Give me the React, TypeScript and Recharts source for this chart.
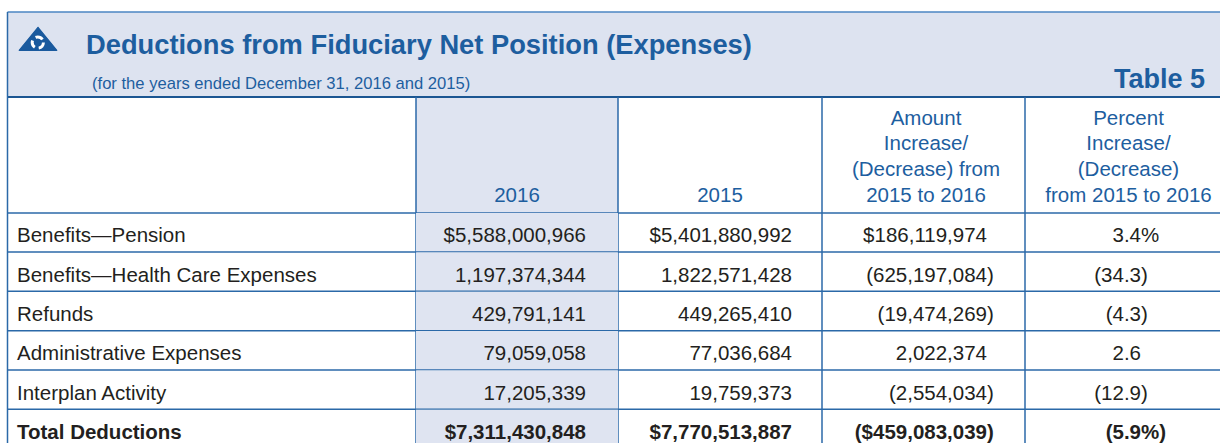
import React from 'react';
import { ComposedChart, Bar, XAxis, YAxis, Customized } from 'recharts';

// ---- data ----
const categories = [
  'Benefits—Pension',
  'Benefits—Health Care Expenses',
  'Refunds',
  'Administrative Expenses',
  'Interplan Activity',
  'Total Deductions',
];
const values2016 = [5588000966, 1197374344, 429791141, 79059058, 17205339, 7311430848];
const values2015 = [5401880992, 1822571428, 449265410, 77036684, 19759373, 7770513887];
const amountChange = [186119974, -625197084, -19474269, 2022374, -2554034, -459083039];
const percentChange = [3.4, -34.3, -4.3, 2.6, -12.9, -5.9];
const dollarRows = [0, 5];
const totalRow = 5;

const title = 'Deductions from Fiduciary Net Position (Expenses)';
const subtitle = '(for the years ended December 31, 2016 and 2015)';
const tableLabel = 'Table 5';
const colHeaders = [
  ['2016'],
  ['2015'],
  ['Amount', 'Increase/', '(Decrease) from', '2015 to 2016'],
  ['Percent', 'Increase/', '(Decrease)', 'from 2015 to 2016'],
];

const rows = categories.map((label, i) => ({
  label,
  v2016: values2016[i],
  v2015: values2015[i],
  amount: amountChange[i],
  pct: percentChange[i],
  idx: i,
}));

// ---- layout / style ----
const FONT = '"Liberation Sans", Arial, Helvetica, sans-serif';
const BLUE_TEXT = '#1d5e9f';
const LINE = '#2b69a8';
const DARK_LINE = '#1b5692';
const SHADE = '#dfe4f1';
const BAND = '#dde3f0';
const TXT = '#231f20';
const FS = 20.5;
const LEFT = 7.5;
const RIGHT = 1220;
const colEdges = [LEFT, 416, 618, 822, 1025, RIGHT];
const valueRight = [586, 792, 987, 1141];
const headerCenters = [517, 720, 926, 1128.5];
const headerBaselines = [124.5, 150.3, 176, 201.8];

const fmtNum = (v: number, dollar: boolean) => {
  const s = Math.abs(v).toLocaleString('en-US');
  const body = (dollar ? '$' : '') + s;
  return v < 0 ? '(' + body + ')' : body;
};
const fmtPct = (v: number, pctSign: boolean) => {
  const body = Math.abs(v).toFixed(1) + (pctSign ? '%' : '');
  return v < 0 ? '(' + body + ')' : body;
};

const HangText = ({ x, y, text, bold }: { x: number; y: number; text: string; bold: boolean }) => {
  const m = text.match(/^(.*\d)(\D*)$/);
  const main = m ? m[1] : text;
  const suf = m ? m[2] : '';
  return (
    <g fontFamily={FONT} fontSize={FS} fill={TXT} fontWeight={bold ? 700 : 400}>
      <text x={x} y={y} textAnchor="end">{main}</text>
      {suf ? <text x={x} y={y} textAnchor="start">{suf}</text> : null}
    </g>
  );
};

const RowShape = (props: any) => {
  const { y, height, payload } = props;
  const i = payload.idx;
  const bold = i === totalRow;
  const dollar = dollarRows.includes(i);
  const base = y + 29.4;
  const texts = [
    fmtNum(payload.v2016, dollar),
    fmtNum(payload.v2015, dollar),
    fmtNum(payload.amount, dollar),
    fmtPct(payload.pct, dollar),
  ];
  return (
    <g>
      <rect x={colEdges[1]} y={y} width={colEdges[2] - colEdges[1]} height={height} fill={SHADE} />
      <text x={17} y={base} fontFamily={FONT} fontSize={FS} fill={TXT} fontWeight={bold ? 700 : 400}>
        {payload.label}
      </text>
      {texts.map((t, k) => (
        <HangText key={k} x={valueRight[k]} y={base} text={t} bold={bold} />
      ))}
      <line x1={LEFT} x2={RIGHT} y1={y + height} y2={y + height} stroke={LINE} strokeWidth={1.5} />
    </g>
  );
};

const Header = () => (
  <g>
    <rect x={LEFT} y={12} width={RIGHT - LEFT} height={85} fill={BAND} />
    <rect x={colEdges[1]} y={97} width={colEdges[2] - colEdges[1]} height={116} fill={SHADE} />
    {/* logo */}
    <path d="M38,27.3 L56.8,50.3 L19.2,50.3 Z" fill="#1a5a9e" stroke="#1a5a9e" strokeWidth={1.2} strokeLinejoin="round" />
    <circle cx={37.8} cy={42.6} r={5.6} fill="none" stroke="#ffffff" strokeWidth={3} strokeDasharray="7.6 4.1" />
    <text x={86} y={54} fontFamily={FONT} fontSize={27.3} fontWeight={700} fill={BLUE_TEXT}>{title}</text>
    <text x={92} y={88.5} fontFamily={FONT} fontSize={16.6} fill={BLUE_TEXT}>{subtitle}</text>
    <text x={1205} y={87.5} textAnchor="end" fontFamily={FONT} fontSize={27} fontWeight={700} fill={BLUE_TEXT}>{tableLabel}</text>
    {colHeaders.map((lines, c) =>
      lines.map((ln, j) => (
        <text
          key={c + '-' + j}
          x={headerCenters[c]}
          y={headerBaselines[4 - lines.length + j]}
          textAnchor="middle"
          fontFamily={FONT}
          fontSize={FS}
          fill={BLUE_TEXT}
        >
          {ln}
        </text>
      ))
    )}
    <line x1={LEFT} x2={RIGHT} y1={12} y2={12} stroke="#4b86c3" strokeWidth={1.5} />
    <line x1={LEFT} x2={RIGHT} y1={97} y2={97} stroke={DARK_LINE} strokeWidth={2} />
    <line x1={LEFT} x2={RIGHT} y1={213} y2={213} stroke={LINE} strokeWidth={1.5} />
    {colEdges.slice(1, 5).map((x, k) => (
      <line key={k} x1={x} x2={x} y1={97} y2={449} stroke={LINE} strokeWidth={1.5} />
    ))}
    <line x1={LEFT} x2={LEFT} y1={12} y2={449} stroke={LINE} strokeWidth={1.5} />
  </g>
);

export default function App() {
  return (
    <div style={{ position: 'absolute', left: 0, top: 0, width: 1220, height: 443, overflow: 'hidden', background: '#fff' }}>
      <ComposedChart
        width={1220}
        height={449}
        data={rows}
        layout="vertical"
        margin={{ top: 213, right: 0, bottom: 0, left: 0 }}
        barCategoryGap={0}
        barGap={0}
      >
        <XAxis type="number" hide domain={[0, 'dataMax']} />
        <YAxis type="category" dataKey="label" hide />
        <Bar dataKey="v2016" isAnimationActive={false} shape={RowShape} />
        <Customized component={Header} />
      </ComposedChart>
    </div>
  );
}
